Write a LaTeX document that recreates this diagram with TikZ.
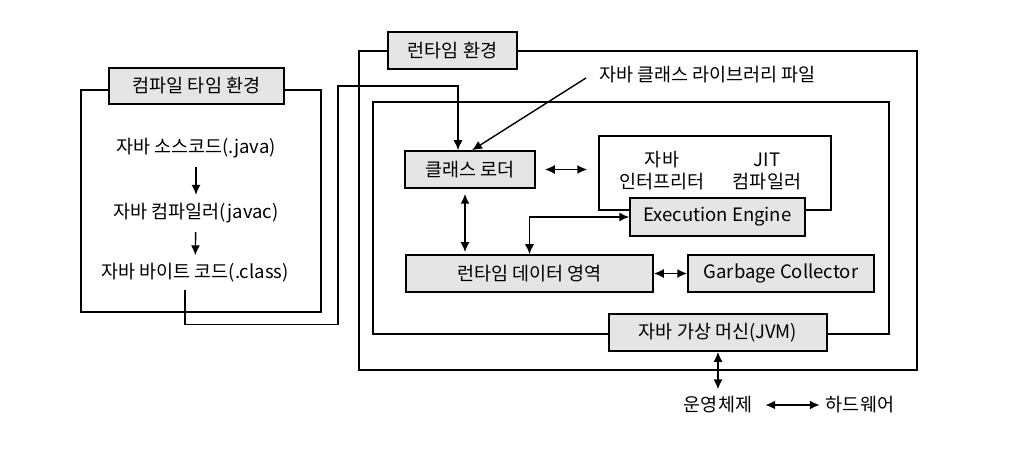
\documentclass[tikz,border=0pt]{standalone}
\usepackage{fontspec}
\setmainfont{Noto Sans CJK KR}
\usepackage{tikz}
\usetikzlibrary{arrows.meta}

\tikzset{
  frame/.style={draw, line width=1.5pt, inner sep=0pt},
  box/.style={draw, fill=black!10, line width=1.5pt, inner sep=0pt, minimum height=37pt, font=\fontsize{18.5}{22}\selectfont},
  txt/.style={font=\fontsize{18.5}{22}\selectfont, inner sep=1pt},
  one/.style={line width=1.4pt, -{Latex[length=10pt,width=9pt]}},
  both/.style={line width=1.7pt, {Latex[length=10pt,width=9pt]}-{Latex[length=10pt,width=9pt]}}
}

\begin{document}
\begin{tikzpicture}[x=1pt, y=-1pt]
			\useasboundingbox (0,0) rectangle (1020,457);

			% 컴파일 타임 환경
			\node (cframe) at (201,201) [frame, minimum width=240pt, minimum height=222pt] {};
			\node (ctitle) at (196.5,86) [box, minimum width=175pt, minimum height=36pt] {컴파일 타임 환경};
			\node (src) at (196,148) [txt] {자바 소스코드(.java)};
			\node (javac) at (196,213) [txt] {자바 컴파일러(javac)};
			\node (cls) at (195,273) [txt] {자바 바이트 코드(.class)};
			\draw[one, shorten <=8pt, shorten >=7pt] (src) -- (javac);
			\draw[one, shorten <=8pt, shorten >=7pt] (javac) -- (cls);

			% 런타임 환경
			\node (rframe) at (638,210.5) [frame, minimum width=558pt, minimum height=319pt] {};
			\node (rtitle) at (452.5,50.5) [box, minimum width=129pt] {런타임 환경};
			\node (lib) at (707.5,75) [txt] {자바 클래스 라이브러리 파일};

			% JVM
			\node (jframe) at (631,218) [frame, minimum width=516pt, minimum height=232pt] {};
			\node (jtitle) at (718,332.5) [box, minimum width=218pt] {자바 가상 머신(JVM)};
			\node (loader) at (470,169.5) [box, minimum width=130pt] {클래스 로더};
			\node (exec) at (715,173) [frame, minimum width=232pt, minimum height=74pt] {};
			\node (interp) at (662,171) [txt, align=center] {자바\\인터프리터};
			\node (jit) at (767,171) [txt, align=center] {JIT\\컴파일러};
			\node (ee) at (717.5,217) [box, minimum width=175pt, minimum height=38pt] {Execution Engine};
			\node (rda) at (529.5,273.5) [box, minimum width=247pt] {런타임 데이터 영역};
			\node (gc) at (781,273.5) [box, minimum width=186pt] {Garbage Collector};

			% 운영체제, 하드웨어
			\node (os) at (718,405) [txt] {운영체제};
			\node (hw) at (860,405) [txt] {하드웨어};

			% 연결
			\draw[one] ([xshift=-10pt,yshift=-6pt]cls.south) -- ++(0,35) -| (338,86) -| ([xshift=-12pt]loader.north);
			\draw[one] ([xshift=-12pt,yshift=-3pt]lib.west) -- ([xshift=2pt]loader.north);
			\draw[both, shorten <=9pt, shorten >=11pt] (loader.east) -- (loader.east -| exec.west);
			\draw[both, shorten <=5pt, shorten >=2pt] ([xshift=-5pt]loader.south) -- ([xshift=-5pt]loader.south |- rda.north);
			\draw[line width=1.4pt, {Latex[length=10pt,width=9pt]}-{Latex[length=10pt,width=9pt]}] (rda.north) |- (ee.west);
			\draw[both] (rda.east) -- (gc.west);
			\draw[both, shorten >=6pt] (jtitle.south) -- (os.north);
			\draw[both, shorten <=12pt, shorten >=5pt] (os.east) -- (hw.west);
		\end{tikzpicture}
\end{document}
